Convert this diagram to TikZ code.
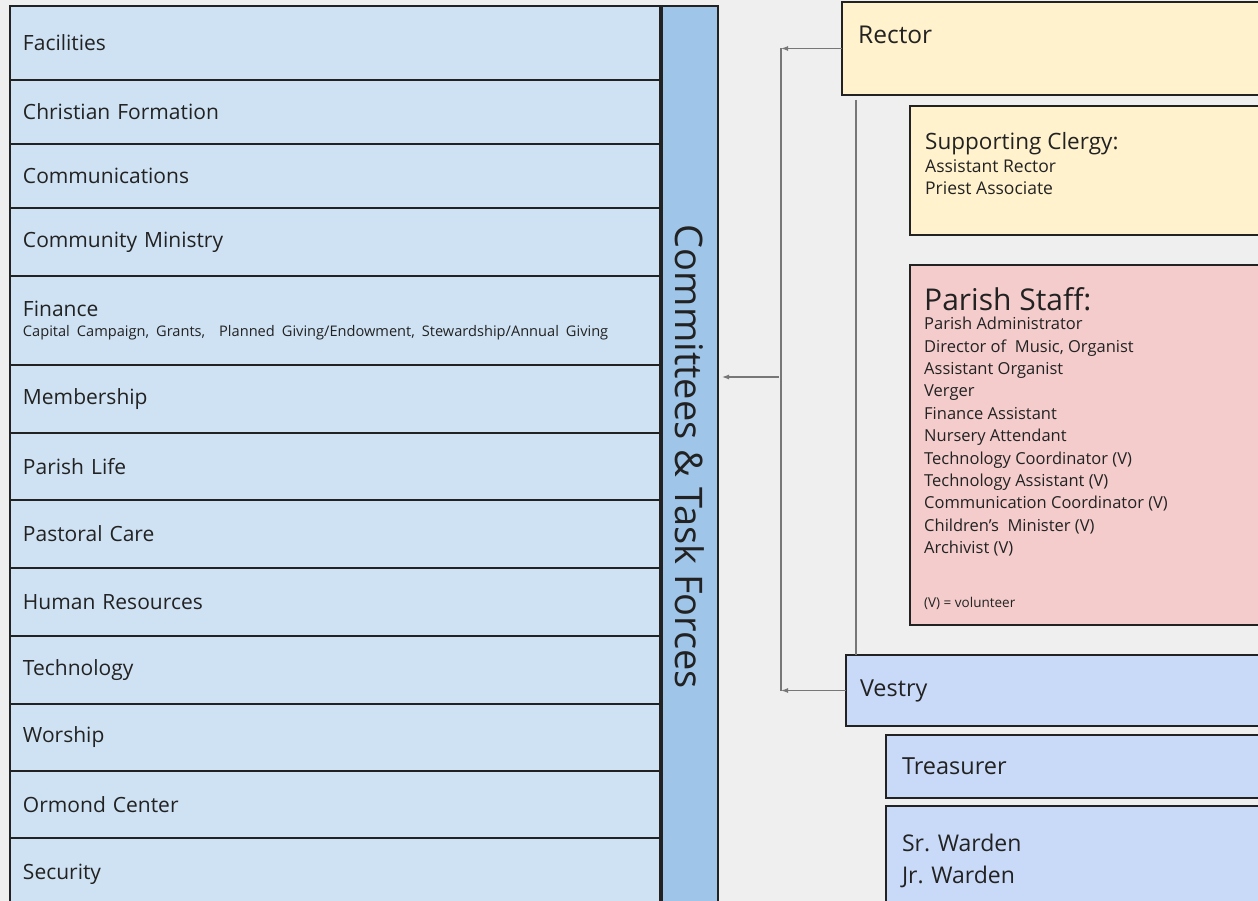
\documentclass[tikz,border=0pt]{standalone}
\usepackage{fontspec}
\setmainfont{Open Sans}
\usetikzlibrary{arrows.meta,%
                positioning}

\definecolor{pagebg}{HTML}{EFEFEF}
\definecolor{boxline}{HTML}{222222}
\definecolor{rowfill}{HTML}{CFE2F3}
\definecolor{barfill}{HTML}{9FC5E8}
\definecolor{rectorfill}{HTML}{FFF2CC}
\definecolor{stafffill}{HTML}{F4CCCC}
\definecolor{vestryfill}{HTML}{C9DAF8}
\definecolor{linkgrey}{HTML}{777777}
\definecolor{inkdark}{HTML}{222222}

\newcommand{\fsz}[2]{\fontsize{#1}{#2}\selectfont}
\frenchspacing

\begin{document}
\begin{tikzpicture}[x=1pt,y=-1pt,text=inkdark]
  \useasboundingbox (0,0) rectangle (1258,901);
  \clip (0,0) rectangle (1258,901);
  \fill[pagebg] (0,0) rectangle (1258,901);
  \tikzstyle{Box}=[draw=boxline, line width=1.6pt, rectangle, inner sep=0pt,
                   outer sep=0pt, anchor=north west]
  \tikzstyle{Row}=[Box, fill=rowfill, text width=624pt, inner xsep=13pt,
                   align=left, font=\fsz{21}{24}]
  \tikzstyle{Link}=[draw=linkgrey, line width=1.2pt]
  \tikzstyle{Tip}=[-{Latex[length=7pt,width=5pt]}]
  % committees column
  \node[Row, minimum height=74pt] (facilities) at (10,6) {Facilities};
  \node[Row, minimum height=64pt, below=0pt of facilities] (formation) {Christian Formation};
  \node[Row, minimum height=64pt, below=0pt of formation] (comms) {Communications};
  \node[Row, minimum height=68pt, below=0pt of comms] (community) {Community Ministry};
  \node[Row, minimum height=89pt, below=0pt of community] (finance)
    {Finance\\[-4pt]{\fsz{14.6}{17}Capital Campaign, Grants,\ \ Planned Giving/Endowment, Stewardship/Annual Giving}};
  \node[Row, minimum height=68pt, below=0pt of finance] (membership) {Membership};
  \node[Row, minimum height=67pt, below=0pt of membership] (parishlife) {Parish Life};
  \node[Row, minimum height=68pt, below=0pt of parishlife] (pastoral) {Pastoral Care};
  \node[Row, minimum height=68pt, below=0pt of pastoral] (hr) {Human Resources};
  \node[Row, minimum height=68pt, below=0pt of hr] (tech) {Technology};
  \node[Row, minimum height=67pt, below=0pt of tech] (worship) {Worship};
  \node[Row, minimum height=67pt, below=0pt of worship] (ormond) {Ormond Center};
  \node[Row, minimum height=72pt, below=0pt of ormond] (security) {Security};
  \node[Box, fill=barfill, minimum width=56pt, minimum height=910pt] (cttee) at (662,6) {};
  \node[rotate=-90, font=\fsz{38}{42}] (ctteeTxt) at ([yshift=4pt]cttee.center) {Committees \& Task Forces};
  % clergy and staff
  \node[Box, fill=rectorfill, minimum width=430pt, minimum height=93pt] (rector) at (842,2) {};
  \node[anchor=base west, inner sep=0pt, font=\fsz{24.5}{28}] (rectorTxt) at (858,44) {Rector};
  \node[Box, fill=rectorfill, minimum width=360pt, minimum height=129pt] (clergy) at (910,106) {};
  \node[anchor=base west, inner sep=0pt, font=\fsz{22.5}{27}] (clergyTxt) at (925,150) {Supporting Clergy:};
  \node[anchor=north west, inner sep=0pt, align=left, font=\fsz{17.5}{22}] (clergyList) at (925,159)
    {Assistant Rector\\Priest Associate};
  \node[Box, fill=stafffill, minimum width=360pt, minimum height=360pt] (staff) at (910,265) {};
  \node[anchor=base west, inner sep=0pt, font=\fsz{30}{34}] (staffTxt) at (924,310) {Parish Staff:};
  \node[anchor=north west, inner sep=0pt, align=left, font=\fsz{16.5}{22.4}] (staffList) at (924,317)
    {Parish Administrator\\Director of\ \ Music, Organist\\Assistant Organist\\Verger\\
     Finance Assistant\\Nursery Attendant\\Technology Coordinator (V)\\Technology Assistant (V)\\
     Communication Coordinator (V)\\Children's\ \ Minister (V)\\Archivist (V)};
  \node[anchor=base west, inner sep=0pt, font=\fsz{13.5}{16}] (staffNote) at (924,607) {(V) = volunteer};
  % vestry and officers
  \node[Box, fill=vestryfill, minimum width=430pt, minimum height=71pt, text width=402pt,
        inner xsep=14pt, align=left, font=\fsz{23.4}{27}] (vestry) at (846,655) {Vestry};
  \node[Box, fill=vestryfill, minimum width=390pt, minimum height=63pt, text width=358pt,
        inner xsep=16pt, align=left, font=\fsz{23.5}{27}] (treasurer) at (886,735) {Treasurer};
  \node[Box, fill=vestryfill, minimum width=390pt, minimum height=110pt, text width=358pt,
        inner xsep=16pt, align=left, font=\fsz{23}{32}] (wardens) at (886,806) {Sr. Warden\\Jr. Warden};
  % reporting lines
  \coordinate (bus) at (781,0);
  \coordinate (tap) at (779,377);
  \draw[Link,Tip] (rector.west) -- (rector.west -| bus);
  \draw[Link] (rector.west -| bus) -- (vestry.west -| bus);
  \draw[Link,Tip] (vestry.west) -- (vestry.west -| bus);
  \draw[Link,Tip,shorten >=4pt] (tap) -- (tap -| cttee.east);
  \draw[Link,shorten <=5pt] ([xshift=14pt]rector.south west) -- ([xshift=14pt]rector.south west |- vestry.north);
\end{tikzpicture}
\end{document}
